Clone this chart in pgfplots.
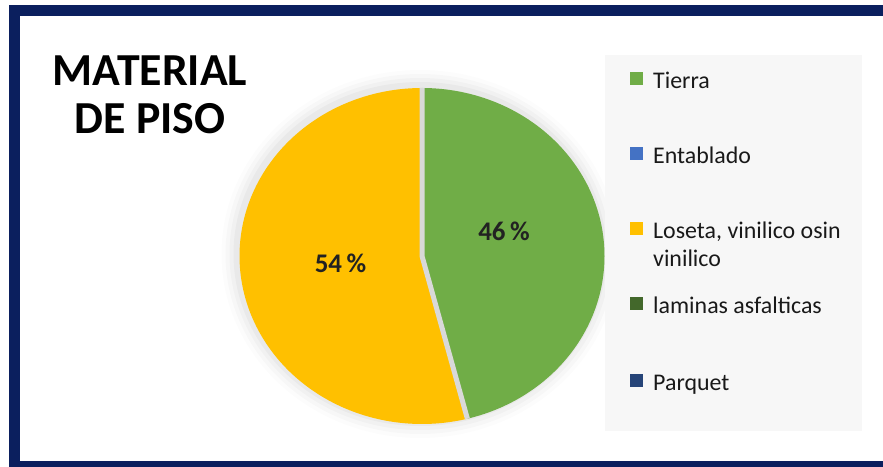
\documentclass[border=0pt]{standalone}
\usepackage{pgfplots}
\pgfplotsset{compat=1.18}
\usepackage{pgfplotstable}
\usepackage{fontspec}
\setmainfont{Carlito}
\definecolor{cTierra}{HTML}{70AD47}
\definecolor{cEntablado}{HTML}{4472C4}
\definecolor{cLoseta}{HTML}{FFC000}
\definecolor{cLaminas}{HTML}{43682B}
\definecolor{cParquet}{HTML}{264478}
\definecolor{navyframe}{HTML}{0B1F5E}
\definecolor{sepgray}{HTML}{D9D9D9}
\definecolor{legbg}{HTML}{F7F7F7}
\definecolor{labtxt}{HTML}{222222}

\pgfplotstableread{
cat value
Tierra 46
Entablado 0
Loseta 54
Laminas 0
Parquet 0
}\piedata

\begin{document}%
\begin{tikzpicture}
\pgfplotstablegetelem{0}{value}\of\piedata \let\vTierra\pgfplotsretval
\pgfplotstablegetelem{1}{value}\of\piedata \let\vEnt\pgfplotsretval
\pgfplotstablegetelem{2}{value}\of\piedata \let\vLos\pgfplotsretval
\pgfmathsetmacro{\aA}{90}
\pgfmathsetmacro{\aB}{90-3.6*\vTierra}
\pgfmathsetmacro{\aC}{\aB-3.6*\vEnt}
\pgfmathsetmacro{\aD}{\aC-3.6*\vLos}
\pgfmathsetmacro{\cx}{cos(\aB)}
\pgfmathsetmacro{\cy}{sin(\aB)}
\path[use as bounding box] (0,0) rectangle (883bp,467bp);
\clip (0,0) rectangle (883bp,467bp);
\begin{scope}[x=1bp,y=1bp]
\fill[white] (0,0) rectangle (883,467);
% soft halo around the pie
\foreach \r/\o in {16/0.012,12/0.018,8/0.024,4/0.03}{
  \fill[black,opacity=\o] (420,213) ellipse ({182.5+\r} and {168+\r});
}
\end{scope}
\begin{axis}[at={(422bp,211bp)}, anchor=center,
  width=365bp, height=336bp, scale only axis,
  xmin=-1, xmax=1, ymin=-1, ymax=1,
  hide axis, clip=false]
\addplot[draw=none, fill=cLoseta, domain=\aD:\aC, samples=150, variable=\t]
  ({cos(\t)},{sin(\t)}) -- (axis cs:0,0) -- cycle;
\addplot[draw=none, fill=cTierra, domain=\aB:\aA, samples=150, variable=\t]
  ({cos(\t)},{sin(\t)}) -- (axis cs:0,0) -- cycle;
\addplot[draw=sepgray, line width=5bp, line cap=butt, line join=miter] coordinates {(0,1) (0,0) (\cx,\cy)};
\end{axis}
\begin{scope}[x=1bp,y=1bp]
% labels in slices
\node[anchor=base, font=\fontsize{27}{30}\selectfont\bfseries, text=labtxt, inner sep=0pt] at (504,227) {46\,\%};
\node[anchor=base, font=\fontsize{27}{30}\selectfont\bfseries, text=labtxt, inner sep=0pt] at (340.5,195) {54\,\%};
% title
\node[anchor=base, font=\fontsize{46}{48}\selectfont\bfseries, inner sep=0pt] at (150,382) {MATERIAL};
\node[anchor=base, font=\fontsize{46}{48}\selectfont\bfseries, inner sep=0pt] at (150,334) {DE PISO};
% legend
\fill[legbg] (605,36) rectangle (862,412);
\foreach \yb/\col/\txt in {379/cTierra/Tierra, 304/cEntablado/Entablado, 229/cLoseta/{Loseta, vinilico osin}, 154/cLaminas/laminas asfalticas, 77/cParquet/Parquet}{
  \fill[\col] (629.5,\yb+2.5) rectangle (642.5,\yb+15.5);
  \node[anchor=base west, font=\fontsize{24}{28}\selectfont, text=black!90, inner sep=0pt] at (653,\yb) {\txt};
}
\node[anchor=base west, font=\fontsize{24}{28}\selectfont, text=black!90, inner sep=0pt] at (653,201) {vinilico};
% frame
\draw[navyframe, line width=11bp] (14.5,0.5) rectangle (900,456.5);
\end{scope}
\end{tikzpicture}%
\end{document}
